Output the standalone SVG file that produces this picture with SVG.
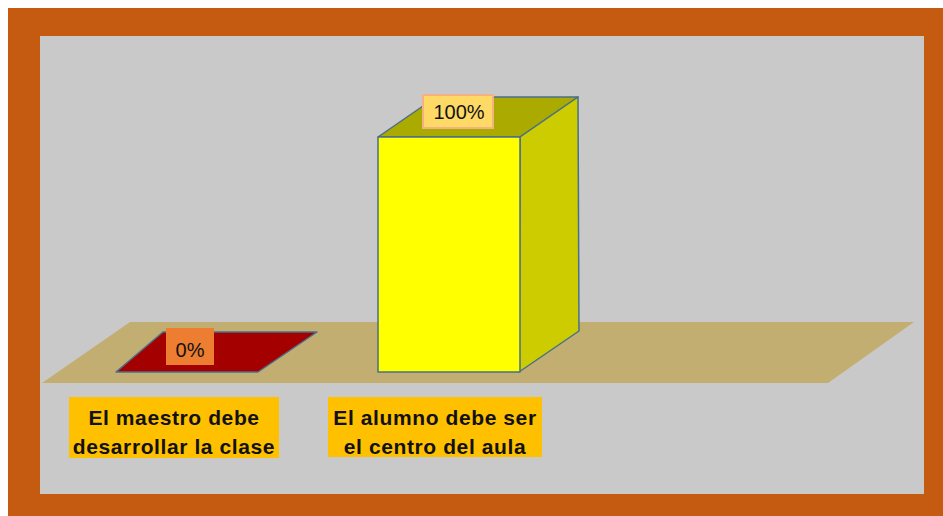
<svg xmlns="http://www.w3.org/2000/svg" width="943" height="516" viewBox="0 0 943 516">
<style>
.lbl{font-family:"Liberation Sans",Arial,sans-serif;font-weight:bold;font-size:21px;letter-spacing:0.6px;fill:#111;text-anchor:middle}
.pct{font-family:"Liberation Sans",Arial,sans-serif;font-size:20px;fill:#111;text-anchor:middle}
.edge{stroke:#4A6F8A;stroke-width:1.5;stroke-linejoin:round}
.cat{fill:#FFC000}
</style>
<rect x="0" y="0" width="943" height="516" fill="#FFFFFF"/>
<rect x="8" y="8" width="935" height="508" fill="#C55A11"/>
<rect x="40" y="36" width="884" height="458" fill="#C9C9C9"/>
<g id="floor">
<polygon points="130,322 914,322 828,383 42,383" fill="#C3AE72"/>
</g>
<g id="bar-maestro">
<polygon class="edge" points="163,332 317,332 258,372 116,372" fill="#A50000"/>
<rect x="166" y="328" width="48" height="37" fill="#ED7D31"/>
<text class="pct" x="190" y="357">0%</text>
</g>
<g id="bar-alumno">
<polygon class="edge" points="378,137 520,137 578,97 436,97" fill="#AAAA00"/>
<polygon class="edge" points="520,137 578,97 579,331 519,372" fill="#CCCC00"/>
<rect class="edge" x="378" y="137" width="142" height="235" fill="#FFFF00"/>
<rect x="423" y="95" width="70" height="33" fill="#FFD966" stroke="#F4B183" stroke-width="2"/>
<text class="pct" x="459" y="119">100%</text>
</g>
<g id="label-maestro">
<rect class="cat" x="69" y="397" width="210" height="61"/>
<text class="lbl" x="174" y="425">El maestro debe</text>
<text class="lbl" x="174" y="454">desarrollar la clase</text>
</g>
<g id="label-alumno">
<rect class="cat" x="328" y="397" width="214" height="60"/>
<text class="lbl" x="435" y="425">El alumno debe ser</text>
<text class="lbl" x="435" y="454">el centro del aula</text>
</g>
<g id="connectors"></g>
</svg>
